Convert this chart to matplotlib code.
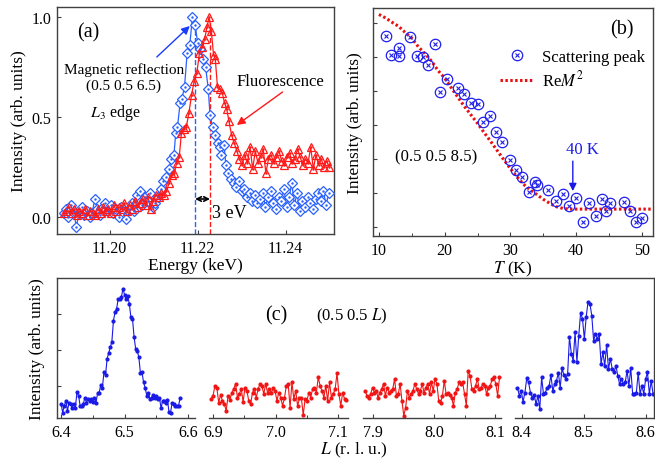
import matplotlib
matplotlib.use("Agg")
import matplotlib.pyplot as plt
from matplotlib.lines import Line2D
from matplotlib.legend_handler import HandlerTuple
from matplotlib.ticker import MultipleLocator

plt.rcParams['font.family'] = ['Liberation Serif', 'DejaVu Serif']
plt.rcParams['mathtext.fontset'] = 'stix'
plt.rcParams['font.size'] = 11.5

# ---- (a) energy scans ----
blue_E = [11.1895, 11.1900, 11.1906, 11.1912, 11.1918, 11.1924, 11.1930, 11.1936, 11.1942, 11.1948,
          11.1954, 11.1960, 11.1966, 11.1972, 11.1978, 11.1984, 11.1990, 11.1996, 11.2002, 11.2008,
          11.2014, 11.2020, 11.2026, 11.2032, 11.2038, 11.2044, 11.2050, 11.2056, 11.2062, 11.2068,
          11.2074, 11.2080, 11.2086, 11.2092, 11.2098, 11.2104, 11.2110, 11.2116, 11.2122, 11.2128,
          11.2134, 11.2140, 11.2146, 11.2150, 11.2154, 11.2160, 11.2164, 11.2170, 11.2176, 11.2182,
          11.2188, 11.2194, 11.2200, 11.2206, 11.2212, 11.2218, 11.2224, 11.2228, 11.2234, 11.2240,
          11.2246, 11.2250, 11.2254, 11.2260, 11.2264, 11.2270, 11.2276, 11.2282, 11.2288, 11.2294,
          11.2300, 11.2306, 11.2312, 11.2318, 11.2324, 11.2330, 11.2336, 11.2342, 11.2348, 11.2354,
          11.2360, 11.2366, 11.2372, 11.2378, 11.2384, 11.2390, 11.2396, 11.2402, 11.2408, 11.2414,
          11.2420, 11.2426, 11.2432, 11.2438, 11.2444, 11.2450, 11.2456, 11.2462, 11.2468, 11.2474,
          11.2480, 11.2486, 11.2492, 11.2498]
blue_I = [0.02, 0.04, 0.00, 0.06, 0.03, -0.05, 0.02, 0.05, 0.01, 0.03,
          0.00, 0.02, 0.09, 0.04, 0.01, 0.05, 0.07, 0.03, 0.06, 0.02,
          0.04, 0.00, 0.05, 0.02, -0.01, 0.04, 0.07, 0.03, 0.11, 0.13,
          0.06, 0.10, 0.08, 0.12, 0.05, 0.07, 0.10, 0.14, 0.18, 0.20,
          0.24, 0.29, 0.31, 0.42, 0.45, 0.57, 0.59, 0.65, 0.82, 0.86,
          1.00, 0.96, 0.87, 0.84, 0.79, 0.75, 0.64, 0.51, 0.45, 0.41,
          0.37, 0.35, 0.31, 0.36, 0.26, 0.22, 0.19, 0.17, 0.15, 0.18,
          0.13, 0.14, 0.10, 0.12, 0.08, 0.11, 0.07, 0.09, 0.12, 0.05,
          0.10, 0.13, 0.07, 0.04, 0.10, 0.08, 0.14, 0.05, 0.10, 0.17,
          0.06, 0.12, 0.03, 0.08, 0.05, 0.10, 0.07, 0.04, 0.09, 0.12,
          0.08, 0.13, 0.06, 0.12]

red_E = [11.1895, 11.1901, 11.1907, 11.1913, 11.1919, 11.1925, 11.1931, 11.1937, 11.1943, 11.1949,
         11.1955, 11.1961, 11.1967, 11.1973, 11.1979, 11.1985, 11.1991, 11.1997, 11.2003, 11.2009,
         11.2015, 11.2021, 11.2027, 11.2033, 11.2039, 11.2045, 11.2051, 11.2057, 11.2063, 11.2069,
         11.2075, 11.2081, 11.2087, 11.2093, 11.2099, 11.2105, 11.2111, 11.2117, 11.2123, 11.2129,
         11.2135, 11.2141, 11.2147, 11.2152, 11.2158, 11.2163, 11.2168, 11.2174, 11.2180, 11.2186,
         11.2192, 11.2198, 11.2204, 11.2210, 11.2216, 11.2221, 11.2226, 11.2231, 11.2236, 11.2240,
         11.2245, 11.2251, 11.2256, 11.2261, 11.2266, 11.2271, 11.2277, 11.2283, 11.2289, 11.2295,
         11.2301, 11.2307, 11.2313, 11.2319, 11.2325, 11.2331, 11.2337, 11.2343, 11.2349, 11.2355,
         11.2361, 11.2367, 11.2373, 11.2379, 11.2385, 11.2391, 11.2397, 11.2403, 11.2409, 11.2415,
         11.2421, 11.2427, 11.2433, 11.2439, 11.2445, 11.2451, 11.2457, 11.2463, 11.2469, 11.2475,
         11.2481, 11.2487, 11.2493, 11.2499]
red_I = [0.02, 0.03, 0.05, 0.02, 0.04, 0.01, 0.03, 0.02, 0.04, 0.01,
         0.03, 0.02, 0.01, 0.04, 0.02, 0.05, 0.03, 0.04, 0.02, 0.06,
         0.03, 0.05, 0.04, 0.07, 0.03, 0.06, 0.04, 0.08, 0.05, 0.07,
         0.09, 0.06, 0.10, 0.04, 0.08, 0.11, 0.10, 0.12, 0.11, 0.13,
         0.17, 0.21, 0.22, 0.27, 0.30, 0.42, 0.44, 0.45, 0.52, 0.61,
         0.68, 0.72, 0.82, 0.85, 0.89, 0.95, 1.00, 0.93, 0.81, 0.79,
         0.65, 0.64, 0.62, 0.57, 0.54, 0.48, 0.41, 0.37, 0.33, 0.29,
         0.26, 0.31, 0.27, 0.35, 0.24, 0.33, 0.27, 0.30, 0.34, 0.22,
         0.29, 0.31, 0.27, 0.30, 0.33, 0.28, 0.26, 0.30, 0.32, 0.27,
         0.29, 0.34, 0.30, 0.26, 0.29, 0.27, 0.35, 0.24, 0.31, 0.26,
         0.29, 0.25, 0.28, 0.25]

E_mag = 11.2194
E_fluo = 11.2228

# ---- (b) temperature dependence ----
scat_T = [11.1, 11.8, 13.0, 13.0, 14.8, 15.8, 16.7, 17.5, 18.5, 19.3, 20.3, 22.1, 23.0, 24.0,
          25.0, 25.9, 26.9, 27.8, 28.7, 29.9, 30.8, 31.8, 32.8, 33.8, 34.0, 35.7, 37.0, 38.0,
          38.9, 40.0, 41.0, 42.0, 43.0, 44.0, 44.5, 45.1, 47.3, 48.2, 49.1, 50.1]
scat_I = [5.62, 5.06, 5.25, 5.03, 5.59, 5.03, 5.01, 4.76, 5.39, 3.98, 4.34, 4.10, 3.92, 3.65,
          3.63, 3.10, 3.27, 2.80, 2.51, 1.96, 1.67, 1.47, 1.03, 1.32, 1.24, 1.09, 0.77, 0.97,
          0.62, 0.86, 0.15, 0.70, 0.34, 0.83, 0.48, 0.70, 0.75, 0.48, 0.16, 0.26]
rem_T = [10.0, 11.0, 12.0, 13.0, 14.0, 15.0, 16.0, 17.0, 18.0, 19.0, 20.0, 21.0, 22.0, 23.0,
         24.0, 25.0, 26.0, 27.0, 28.0, 29.0, 30.0, 31.0, 32.0, 33.0, 34.0, 35.0, 36.0, 37.0,
         38.0, 39.0, 40.0, 42.0, 44.0, 46.0, 48.0, 50.0, 51.5]
rem_I = [6.25, 6.15, 6.02, 5.90, 5.72, 5.55, 5.30, 5.10, 4.88, 4.60, 4.38, 4.10, 3.82, 3.55,
         3.30, 3.05, 2.78, 2.52, 2.25, 1.98, 1.72, 1.48, 1.26, 1.10, 0.96, 0.82, 0.70, 0.60,
         0.55, 0.53, 0.53, 0.53, 0.53, 0.53, 0.53, 0.53, 0.53]

# ---- (c) L scans ----
L1 = [6.4000, 6.4025, 6.4050, 6.4075, 6.4100, 6.4125, 6.4150, 6.4175, 6.4200, 6.4225,
      6.4250, 6.4275, 6.4300, 6.4325, 6.4350, 6.4375, 6.4400, 6.4425, 6.4450, 6.4475,
      6.4500, 6.4525, 6.4550, 6.4575, 6.4600, 6.4625, 6.4650, 6.4675, 6.4700, 6.4725,
      6.4750, 6.4775, 6.4800, 6.4825, 6.4850, 6.4875, 6.4900, 6.4925, 6.4950, 6.4975,
      6.5000, 6.5025, 6.5050, 6.5075, 6.5100, 6.5125, 6.5150, 6.5175, 6.5200, 6.5225,
      6.5250, 6.5275, 6.5300, 6.5325, 6.5350, 6.5375, 6.5400, 6.5425, 6.5450, 6.5475,
      6.5500, 6.5525, 6.5550, 6.5575, 6.5600, 6.5625, 6.5650, 6.5675, 6.5700, 6.5725,
      6.5750, 6.5775, 6.5800, 6.5825, 6.5850, 6.5875]
I1 = [0.49, 0.25, 0.44, 0.58, 0.30, 0.53, 0.49, 0.39, 0.49, 0.39,
      0.83, 0.72, 0.44, 0.44, 0.49, 0.67, 0.53, 0.63, 0.58, 0.63,
      0.55, 0.67, 0.52, 0.80, 0.81, 1.02, 0.94, 1.37, 1.30, 1.75,
      1.92, 2.07, 2.23, 2.82, 3.05, 3.15, 3.43, 3.41, 3.48, 3.71,
      3.54, 3.43, 3.50, 3.29, 2.91, 2.87, 2.36, 2.03, 1.98, 1.79,
      1.36, 1.37, 1.09, 0.94, 0.72, 0.81, 0.63, 0.67, 0.74, 0.67,
      0.72, 0.63, 0.67, 0.37, 0.58, 0.58, 0.53, 0.61, 0.27, 0.25,
      0.53, 0.49, 0.44, 0.44, 0.44, 0.65]

L2 = [6.897, 6.900, 6.903, 6.906, 6.909, 6.912, 6.915, 6.918, 6.921, 6.924,
      6.927, 6.930, 6.933, 6.936, 6.939, 6.942, 6.945, 6.948, 6.951, 6.954,
      6.957, 6.960, 6.963, 6.966, 6.969, 6.972, 6.975, 6.978, 6.981, 6.984,
      6.987, 6.990, 6.993, 6.996, 6.999, 7.002, 7.005, 7.008, 7.011, 7.014,
      7.017, 7.020, 7.023, 7.026, 7.029, 7.032, 7.035, 7.038, 7.041, 7.044,
      7.047, 7.050, 7.053, 7.056, 7.059, 7.062, 7.065, 7.068, 7.071, 7.074,
      7.077, 7.080, 7.083, 7.086, 7.089, 7.092, 7.095, 7.098, 7.101, 7.104,
      7.107, 7.110, 7.113]
I2 = [0.63, 0.72, 1.00, 0.95, 0.53, 0.74, 0.58, 0.49, 0.30, 0.72,
      0.61, 0.81, 0.91, 1.05, 0.67, 0.77, 0.91, 0.55, 0.95, 0.86,
      0.58, 0.49, 0.81, 0.91, 0.67, 0.91, 1.05, 1.00, 0.77, 1.05,
      0.81, 0.91, 0.80, 0.93, 0.86, 0.58, 0.81, 0.67, 0.44, 0.65,
      1.00, 1.05, 0.39, 1.09, 0.63, 0.86, 0.44, 0.65, 0.67, 0.18,
      0.63, 0.58, 0.81, 0.67, 0.91, 0.95, 0.81, 1.23, 1.00, 0.86,
      0.67, 1.00, 0.58, 1.09, 0.67, 0.77, 0.91, 1.35, 0.77, 0.44,
      0.81, 0.63, 0.61]

L3 = [7.888, 7.891, 7.894, 7.897, 7.900, 7.903, 7.906, 7.909, 7.912, 7.915,
      7.918, 7.921, 7.924, 7.927, 7.930, 7.933, 7.936, 7.939, 7.942, 7.945,
      7.948, 7.951, 7.954, 7.957, 7.960, 7.963, 7.966, 7.969, 7.972, 7.975,
      7.978, 7.981, 7.984, 7.987, 7.990, 7.993, 7.996, 7.999, 8.002, 8.005,
      8.008, 8.011, 8.014, 8.017, 8.020, 8.023, 8.026, 8.029, 8.032, 8.035,
      8.038, 8.041, 8.044, 8.047, 8.050, 8.053, 8.056, 8.059, 8.062, 8.065,
      8.068, 8.071, 8.074, 8.077, 8.080, 8.083, 8.086, 8.089, 8.092, 8.095,
      8.098, 8.101, 8.104, 8.107]
I3 = [0.86, 0.72, 0.67, 0.77, 0.95, 0.81, 0.86, 0.67, 0.81, 0.91,
      1.05, 0.72, 0.95, 0.81, 0.86, 0.91, 1.19, 0.72, 0.77, 1.05,
      0.58, 0.16, 0.39, 0.86, 0.67, 0.77, 0.86, 1.05, 0.91, 0.77,
      0.86, 1.05, 0.81, 0.95, 1.05, 0.77, 1.09, 0.86, 1.19, 1.05,
      0.58, 0.53, 0.72, 1.14, 0.77, 0.80, 0.74, 0.67, 0.44, 0.81,
      0.91, 1.09, 1.05, 1.09, 0.77, 0.44, 1.42, 1.28, 0.91, 0.86,
      1.00, 1.19, 0.91, 0.95, 1.05, 1.00, 0.77, 0.95, 1.00, 1.19,
      1.23, 1.05, 0.72, 1.23]

L4 = [8.393, 8.396, 8.399, 8.402, 8.405, 8.408, 8.411, 8.414, 8.417, 8.420,
      8.423, 8.426, 8.429, 8.432, 8.435, 8.438, 8.441, 8.444, 8.447, 8.450,
      8.453, 8.456, 8.459, 8.462, 8.465, 8.468, 8.471, 8.474, 8.477, 8.480,
      8.483, 8.486, 8.489, 8.492, 8.495, 8.498, 8.501, 8.504, 8.507, 8.510,
      8.513, 8.516, 8.519, 8.522, 8.525, 8.528, 8.531, 8.534, 8.537, 8.540,
      8.543, 8.546, 8.549, 8.552, 8.555, 8.558, 8.561, 8.564, 8.567, 8.570,
      8.573, 8.576, 8.579, 8.582, 8.585, 8.588, 8.591, 8.594, 8.597, 8.600,
      8.603, 8.606, 8.609, 8.612]
I4 = [0.95, 0.72, 0.86, 0.55, 0.81, 1.21, 1.09, 0.80, 0.67, 0.74,
      0.49, 0.72, 0.35, 1.23, 0.77, 0.81, 0.95, 0.98, 1.30, 0.86,
      1.04, 1.14, 1.36, 0.95, 1.49, 1.30, 1.19, 1.33, 2.36, 1.89,
      1.70, 2.49, 1.67, 2.40, 3.04, 2.87, 2.31, 2.92, 3.35, 3.29,
      2.96, 2.26, 2.45, 2.31, 2.45, 1.61, 1.93, 1.56, 2.14, 1.47,
      1.75, 1.47, 1.37, 1.56, 1.28, 1.04, 1.19, 1.04, 1.09, 1.42,
      1.00, 1.49, 0.77, 0.77, 0.81, 1.36, 0.77, 1.00, 0.77, 1.19,
      1.37, 0.77, 1.14, 0.77]

seg_L = [L1, L2, L3, L4]
seg_I = [I1, I2, I3, I4]
seg_colors = ['#1a1ae6', '#f01414', '#f01414', '#1a1ae6']
seg_lims = [(6.394, 6.611), (6.894, 7.116), (7.885, 8.109), (8.389, 8.614)]
seg_ticks = [[6.4, 6.5, 6.6], [6.9, 7.0, 7.1], [7.9, 8.0, 8.1], [8.4, 8.5, 8.6]]

BLUE = '#2a62ff'
RED = '#ff1a1a'
SPINE = '#404040'

W, H = 655, 460
fig = plt.figure(figsize=(W / 100, H / 100), dpi=100)


def px_axes(l, t, r, b):
    return fig.add_axes([l / W, 1 - b / H, (r - l) / W, (b - t) / H])


def style(ax, lsize=11.5):
    for s in ax.spines.values():
        s.set_color(SPINE)
        s.set_linewidth(1.0)
    ax.tick_params(direction='in', length=3, width=0.8, colors=SPINE,
                   labelcolor='black', labelsize=lsize, pad=4)
    ax.tick_params(which='minor', direction='in', length=2, width=0.7, colors=SPINE)


# ---------------- (a) ----------------
axa = px_axes(57, 8, 334, 235)
style(axa)
axa.plot(blue_E, blue_I, '-', color=BLUE, lw=0.9, marker='D', ms=5, mfc='white',
         mec=BLUE, mew=0.9, zorder=3)
axa.plot(blue_E, blue_I, '.', color=BLUE, ms=1.5, zorder=4)
axa.plot(red_E, red_I, '-', color=RED, lw=0.9, marker='^', ms=6, mfc='none',
         mec=RED, mew=0.9, zorder=3)
axa.plot(red_E, red_I, '.', color=RED, ms=1.5, zorder=4)
axa.set_xlim(11.188, 11.251)
axa.set_ylim(-0.085, 1.05)
axa.set_xticks([11.20, 11.22, 11.24])
axa.set_xticklabels(['11.20', '11.22', '11.24'])
axa.set_yticks([0.0, 0.5, 1.0])
axa.set_yticklabels(['0.0', '0.5', '1.0'])
axa.set_xlabel('Energy (keV)', fontsize=12.5, labelpad=1)
axa.set_ylabel('Intensity (arb. units)', fontsize=12.5, labelpad=3)

axa.plot([E_mag, E_mag], [-0.085, 0.98], '--', color=BLUE, lw=1.0, zorder=2)
axa.plot([E_fluo, E_fluo], [-0.085, 0.98], '--', color=RED, lw=1.0, zorder=2)
axa.annotate('', xy=(E_fluo, 0.09), xytext=(E_mag, 0.09),
             arrowprops=dict(arrowstyle='<->', color='black', lw=1.2,
                             mutation_scale=8, shrinkA=0, shrinkB=0))
axa.text(11.2233, 0.025, '3 eV', fontsize=13, va='center', ha='left')
axa.text(11.195, 0.925, '(a)', fontsize=14.5, ha='center', va='center')
axa.text(11.2032, 0.74, 'Magnetic reflection', fontsize=11, ha='center', va='center')
axa.text(11.2032, 0.66, '(0.5 0.5 6.5)', fontsize=11, ha='center', va='center')
axa.text(11.2012, 0.525, '$L_3$ edge', fontsize=11.5, ha='center', va='center')
axa.annotate('', xy=(11.2182, 0.955), xytext=(11.2107, 0.80),
             arrowprops=dict(arrowstyle='-|>', color='#1a3cff', lw=1.0,
                             mutation_scale=12, shrinkA=0, shrinkB=0))
axa.text(11.2389, 0.68, 'Fluorescence', fontsize=12, ha='center', va='center')
axa.annotate('', xy=(11.2289, 0.46), xytext=(11.2393, 0.625),
             arrowprops=dict(arrowstyle='-|>', color=RED, lw=1.0,
                             mutation_scale=12, shrinkA=0, shrinkB=0))

# ---------------- (b) ----------------
axb = px_axes(373, 9, 653, 237)
style(axb)
axb.plot(rem_T, rem_I, linestyle=(0, (0.8, 0.8)), color='#e81010', lw=2.2, zorder=2)
axb.plot(scat_T, scat_I, 'o', ms=7.5, mfc='none', mec='#2020ee', mew=0.9, zorder=3)
axb.plot(scat_T, scat_I, 'x', ms=3.2, color='#2020ee', mew=0.8, zorder=3)
axb.set_xlim(9.1, 51.7)
axb.set_ylim(-0.26, 6.44)
axb.set_xticks([10, 20, 30, 40, 50])
axb.xaxis.set_minor_locator(MultipleLocator(5))
axb.set_yticks([0, 1, 2, 3, 4, 5, 6])
axb.set_yticklabels([])
axb.set_xlabel('$T$ (K)', fontsize=12.5, labelpad=1)
axb.set_ylabel('Intensity (arb. units)', fontsize=12.5, labelpad=3)
axb.text(46.96, 5.82, '(b)', fontsize=14.5, ha='center', va='center')
axb.text(18.7, 2.09, '(0.5 0.5 8.5)', fontsize=12, ha='center', va='center')
axb.text(40.9, 2.29, '40 K', fontsize=12, color='#1a1ae6', ha='center', va='center')
axb.annotate('', xy=(39.5, 1.06), xytext=(39.5, 1.94),
             arrowprops=dict(arrowstyle='-|>', color='#1a1ae6', lw=1.0,
                             mutation_scale=11, shrinkA=0, shrinkB=0))
h_scat = (Line2D([], [], ls='none', marker='o', ms=7.5, mfc='none', mec='#2020ee', mew=0.9),
          Line2D([], [], ls='none', marker='x', ms=3.2, color='#2020ee', mew=0.8))
h_rem = Line2D([], [], linestyle=(0, (0.8, 0.8)), color='#e81010', lw=2.2)
axb.legend([h_scat, h_rem], ['Scattering peak', 'Re$M^2$'],
           handler_map={tuple: HandlerTuple(ndivide=1)},
           loc='upper left', bbox_to_anchor=(0.43, 0.85), frameon=False,
           fontsize=12, handlelength=2.0, handletextpad=0.5, labelspacing=0.3,
           borderaxespad=0)

# ---------------- (c) ----------------
seg_px = [(57.3, 195), (209.3, 348.3), (363.3, 500.7), (515, 654.3)]
top_c, bot_c = 279.3, 419.3
for k, (l, r) in enumerate(seg_px):
    ax = px_axes(l, top_c, r, bot_c)
    style(ax, 11.5)
    ax.plot(seg_L[k], seg_I[k], '-', color=seg_colors[k], lw=0.8, marker='o', ms=2.0,
            mec=seg_colors[k], mfc=seg_colors[k])
    ax.set_xlim(*seg_lims[k])
    ax.set_ylim(0.09, 4.0)
    ax.set_xticks(seg_ticks[k])
    ax.set_xticklabels(['%.1f' % v for v in seg_ticks[k]])
    ax.xaxis.set_minor_locator(MultipleLocator(0.05))
    ax.spines['top'].set_visible(False)
    ax.spines['right'].set_visible(k == 3)
    ax.spines['left'].set_visible(k == 0)
    ax.tick_params(axis='x', which='both', top=False)
    if k == 0:
        ax.set_yticks([1, 2, 3])
        ax.set_yticklabels([])
        ax.set_ylabel('Intensity (arb. units)', fontsize=12.5, labelpad=5)
    else:
        ax.set_yticks([])
    ax.tick_params(axis='y', right=False)
    ax.patch.set_alpha(0)

fig.add_artist(Line2D([57.3 / W, 654.3 / W], [1 - top_c / H, 1 - top_c / H],
                      color=SPINE, lw=1.0))
fig.text(276 / W, 1 - 316 / H, '(c)', fontsize=14.5, ha='center', va='center')
fig.text(352 / W, 1 - 316 / H, '(0.5 0.5 $L$)', fontsize=12, ha='center', va='center')
fig.text(354 / W, 1 - 450 / H, '$L$ (r. l. u.)', fontsize=12.5, ha='center', va='center')

fig.savefig('out.png', dpi=100)
